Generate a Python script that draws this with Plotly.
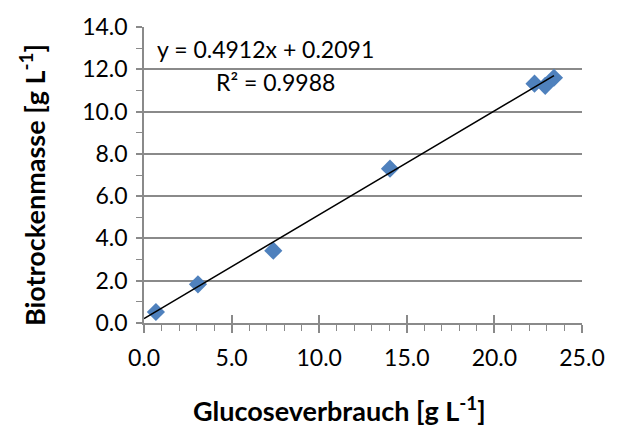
import plotly.graph_objects as go

# Glucose consumption vs. dry biomass
glucose = [0.68, 3.08, 7.38, 14.04, 22.29, 22.9, 23.4]
biomass = [0.52, 1.83, 3.42, 7.3, 11.32, 11.22, 11.6]

# Linear trendline coefficients
slope = 0.4912
intercept = 0.2091
r_squared = 0.9988

x_ticks = [0.0, 5.0, 10.0, 15.0, 20.0, 25.0]
y_ticks = [0.0, 2.0, 4.0, 6.0, 8.0, 10.0, 12.0, 14.0]

x_title = "<b>Glucoseverbrauch [g L<sup>-1</sup>]</b>"
y_title = "<b>Biotrockenmasse [g L<sup>-1</sup>]</b>"

FONT = "Lato"
GRID = "#8a8a8a"

trend_x = [0.0, max(glucose)]
trend_y = [slope * v + intercept for v in trend_x]

fig = go.Figure()
fig.add_trace(go.Scatter(
    x=glucose, y=biomass, mode="markers",
    marker=dict(symbol="diamond", size=14, color="#4F81BD",
                line=dict(width=0)),
    showlegend=False,
))
fig.add_trace(go.Scatter(
    x=trend_x, y=trend_y, mode="lines",
    line=dict(color="black", width=1.5),
    showlegend=False,
))
# transparent trace on the overlay axis so its inside ticks render
fig.add_trace(go.Scatter(x=[0], y=[0], xaxis="x2", mode="markers",
                         marker=dict(opacity=0), showlegend=False,
                         hoverinfo="skip"))

fig.update_layout(
    width=617, height=427,
    margin=dict(l=144, r=28, t=21, b=104),
    paper_bgcolor="white", plot_bgcolor="white",
    font=dict(family=FONT, size=23, color="black"),
    xaxis=dict(
        range=[0, 25], tickvals=x_ticks,
        ticktext=[f"{v:.1f}" for v in x_ticks],
        showgrid=False, zeroline=False,
        showline=True, linecolor=GRID, linewidth=1.5,
        ticks="outside", ticklen=8, tickcolor=GRID, tickwidth=1.5,
        minor=dict(dtick=1, ticks="outside", ticklen=6, tickcolor=GRID, tickwidth=1.2),
        ticklabelstandoff=6,
    ),
    xaxis2=dict(
        range=[0, 25], tickvals=x_ticks, overlaying="x",
        showticklabels=False, showgrid=False, zeroline=False, showline=False,
        ticks="inside", ticklen=8, tickcolor=GRID, tickwidth=1.5,
        side="bottom",
    ),
    yaxis=dict(
        range=[0, 14], tickvals=y_ticks,
        ticktext=[f"{v:.1f}" for v in y_ticks],
        showgrid=True, gridcolor=GRID, gridwidth=1.5, zeroline=False,
        showline=True, linecolor=GRID, linewidth=1.5,
        ticks="outside", ticklen=6, tickcolor=GRID, tickwidth=1.5,
        minor=dict(dtick=1, ticks="outside", ticklen=6, tickcolor=GRID, tickwidth=1.2),
        ticklabelstandoff=4,
    ),
    annotations=[
        dict(text=f"y = {slope}x + {intercept}", xref="paper", yref="paper",
             x=0.025, y=0.925, xanchor="left", yanchor="middle",
             showarrow=False, font=dict(size=23)),
        dict(text=f"R² = {r_squared}", xref="paper", yref="paper",
             x=0.30, y=0.815, xanchor="center", yanchor="middle",
             showarrow=False, font=dict(size=23)),
        # axis titles
        dict(text=x_title, xref="paper", yref="paper",
             x=0.447, y=-0.29, xanchor="center", yanchor="middle",
             showarrow=False, font=dict(size=27)),
        dict(text=y_title, xref="paper", yref="paper", textangle=-90,
             x=-0.254, y=0.465, xanchor="center", yanchor="middle",
             showarrow=False, font=dict(size=27)),
    ],
)

fig.write_html("out.html")
